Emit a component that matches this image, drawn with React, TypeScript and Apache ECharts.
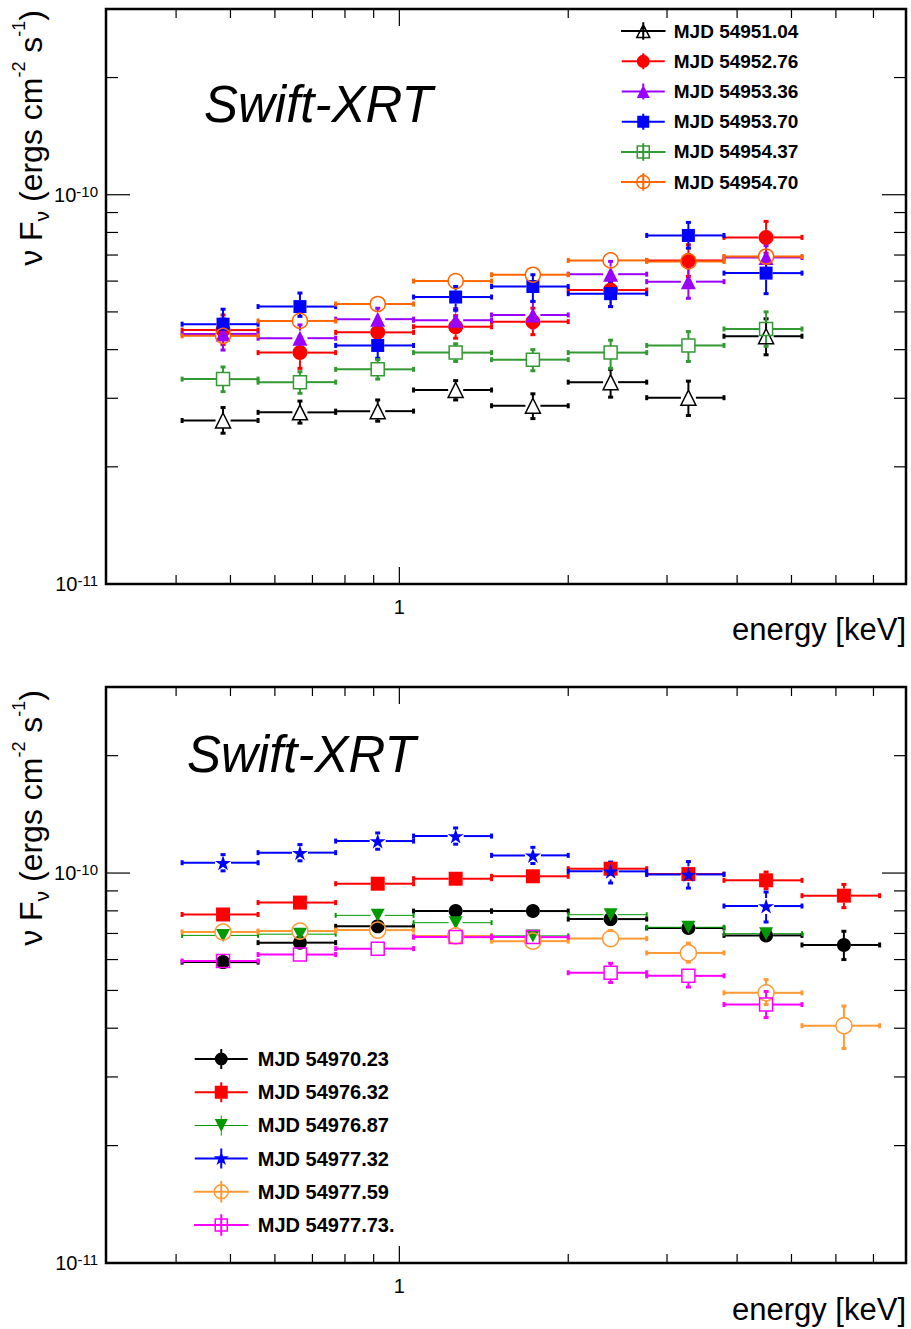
import React, { useEffect, useRef } from 'react';
import * as echarts from 'echarts';

const FONT = '"Liberation Sans", Arial, Helvetica, sans-serif';

// ---- energy bins (keV) ----
const binLo = [0.41, 0.56, 0.77, 1.06, 1.46, 2.0, 2.76, 3.79, 5.22];
const binHi = [0.56, 0.77, 1.06, 1.46, 2.0, 2.76, 3.79, 5.22, 7.18];
const binMid = [0.485, 0.665, 0.915, 1.26, 1.73, 2.38, 3.275, 4.505, 6.2];

// ---- axes ----
const xRange = [0.3, 8];
const yRange = [1e-11, 3e-10];
const xMajorTicks = [1];
const xMinorTicks = [0.4, 0.5, 0.6, 0.7, 0.8, 0.9, 2, 3, 4, 5, 6, 7];
const yMajorTicks = [1e-10];
const yMinorTicks = [2e-11, 3e-11, 4e-11, 5e-11, 6e-11, 7e-11, 8e-11, 9e-11, 2e-10];
const xLabelValues = [1];
const yLabelValues = [1e-11, 1e-10];

const panelTitle = 'Swift-XRT';
const xTitle = 'energy [keV]';

// ---- top panel ----
const topNames = ['MJD 54951.04', 'MJD 54952.76', 'MJD 54953.36', 'MJD 54953.70', 'MJD 54954.37', 'MJD 54954.70'];

const t1Val = [2.63e-11, 2.76e-11, 2.78e-11, 3.15e-11, 2.87e-11, 3.30e-11, 3.01e-11, 4.33e-11];
const t1Lo = [2.44e-11, 2.59e-11, 2.62e-11, 2.97e-11, 2.66e-11, 3.02e-11, 2.71e-11, 3.88e-11];
const t1Hi = [2.84e-11, 2.95e-11, 2.97e-11, 3.33e-11, 3.08e-11, 3.56e-11, 3.32e-11, 4.80e-11];

const t2Val = [4.49e-11, 3.93e-11, 4.43e-11, 4.58e-11, 4.72e-11, 5.69e-11, 6.78e-11, 7.77e-11];
const t2Lo = [4.12e-11, 3.58e-11, 4.12e-11, 4.28e-11, 4.37e-11, 5.16e-11, 6.17e-11, 7.08e-11];
const t2Hi = [4.91e-11, 4.31e-11, 4.77e-11, 4.89e-11, 5.11e-11, 6.19e-11, 7.44e-11, 8.54e-11];

const t3Val = [4.39e-11, 4.28e-11, 4.79e-11, 4.76e-11, 4.91e-11, 6.25e-11, 5.98e-11, 6.90e-11];
const t3Lo = [3.99e-11, 3.95e-11, 4.45e-11, 4.45e-11, 4.55e-11, 5.80e-11, 5.42e-11, 6.40e-11];
const t3Hi = [4.80e-11, 4.63e-11, 5.11e-11, 5.10e-11, 5.32e-11, 6.74e-11, 6.54e-11, 7.40e-11];

const t4Val = [4.65e-11, 5.16e-11, 4.10e-11, 5.46e-11, 5.81e-11, 5.57e-11, 7.86e-11, 6.29e-11];
const t4Lo = [4.25e-11, 4.87e-11, 3.80e-11, 5.05e-11, 5.32e-11, 5.16e-11, 7.29e-11, 5.57e-11];
const t4Hi = [5.08e-11, 5.59e-11, 4.40e-11, 5.81e-11, 6.23e-11, 5.95e-11, 8.49e-11, 6.74e-11];

const t5Val = [3.36e-11, 3.30e-11, 3.56e-11, 3.93e-11, 3.77e-11, 3.93e-11, 4.10e-11, 4.52e-11];
const t5Lo = [3.12e-11, 3.09e-11, 3.36e-11, 3.73e-11, 3.53e-11, 3.58e-11, 3.73e-11, 4.08e-11];
const t5Hi = [3.61e-11, 3.51e-11, 3.77e-11, 4.14e-11, 4.00e-11, 4.23e-11, 4.45e-11, 5.00e-11];

const t6Val = [4.34e-11, 4.74e-11, 5.24e-11, 6.00e-11, 6.23e-11, 6.78e-11, 6.74e-11, 6.94e-11];
const t6Lo = [4.18e-11, 4.56e-11, 5.05e-11, 5.78e-11, 6.00e-11, 6.53e-11, 6.48e-11, 6.68e-11];
const t6Hi = [4.50e-11, 4.92e-11, 5.44e-11, 6.23e-11, 6.47e-11, 7.04e-11, 7.00e-11, 7.20e-11];

// ---- bottom panel ----
const bottomNames = ['MJD 54970.23', 'MJD 54976.32', 'MJD 54976.87', 'MJD 54977.32', 'MJD 54977.59', 'MJD 54977.73.'];

const b1Val = [5.91e-11, 6.63e-11, 7.30e-11, 7.99e-11, 7.99e-11, 7.62e-11, 7.23e-11, 6.92e-11, 6.54e-11];
const b1Lo = [5.75e-11, 6.45e-11, 7.10e-11, 7.78e-11, 7.78e-11, 7.40e-11, 7.00e-11, 6.70e-11, 6.00e-11];
const b1Hi = [6.07e-11, 6.81e-11, 7.50e-11, 8.20e-11, 8.20e-11, 7.84e-11, 7.46e-11, 7.14e-11, 7.09e-11];

const b2Val = [7.83e-11, 8.40e-11, 9.39e-11, 9.67e-11, 9.81e-11, 10.26e-11, 9.94e-11, 9.58e-11, 8.75e-11];
const b2Lo = [7.62e-11, 8.18e-11, 9.15e-11, 9.42e-11, 9.56e-11, 9.90e-11, 9.60e-11, 9.12e-11, 8.15e-11];
const b2Hi = [8.04e-11, 8.62e-11, 9.63e-11, 9.92e-11, 10.06e-11, 10.62e-11, 10.28e-11, 10.06e-11, 9.35e-11];

const b3Val = [6.92e-11, 6.97e-11, 7.79e-11, 7.46e-11, 6.90e-11, 7.82e-11, 7.26e-11, 6.99e-11];
const b3Lo = [6.75e-11, 6.80e-11, 7.60e-11, 7.28e-11, 6.73e-11, 7.63e-11, 7.08e-11, 6.82e-11];
const b3Hi = [7.09e-11, 7.14e-11, 7.98e-11, 7.64e-11, 7.07e-11, 8.01e-11, 7.44e-11, 7.16e-11];

const b4Val = [10.63e-11, 11.28e-11, 12.08e-11, 12.44e-11, 11.10e-11, 10.10e-11, 9.92e-11, 8.23e-11];
const b4Lo = [10.13e-11, 10.75e-11, 11.51e-11, 11.86e-11, 10.58e-11, 9.43e-11, 9.15e-11, 7.49e-11];
const b4Hi = [11.15e-11, 11.83e-11, 12.67e-11, 13.05e-11, 11.64e-11, 10.67e-11, 10.70e-11, 8.94e-11];

const b5Val = [7.06e-11, 7.10e-11, 7.14e-11, 6.90e-11, 6.69e-11, 6.79e-11, 6.24e-11, 4.93e-11, 4.06e-11];
const b5Lo = [6.85e-11, 6.89e-11, 6.93e-11, 6.69e-11, 6.49e-11, 6.48e-11, 5.91e-11, 4.60e-11, 3.55e-11];
const b5Hi = [7.27e-11, 7.31e-11, 7.35e-11, 7.11e-11, 6.89e-11, 7.12e-11, 6.61e-11, 5.33e-11, 4.56e-11];

const b6Val = [5.95e-11, 6.18e-11, 6.40e-11, 6.85e-11, 6.85e-11, 5.55e-11, 5.45e-11, 4.60e-11];
const b6Lo = [5.80e-11, 6.02e-11, 6.23e-11, 6.67e-11, 6.67e-11, 5.24e-11, 5.10e-11, 4.26e-11];
const b6Hi = [6.10e-11, 6.34e-11, 6.57e-11, 7.03e-11, 7.03e-11, 5.87e-11, 5.66e-11, 4.97e-11];

// ---- visual styles (not data) ----
type St = { shape: string; color: string; size: number; open: boolean; lw: number; lr: number };
const topStyles: St[] = [
  { shape: 'triUp', color: '#000000', size: 15, open: true, lw: 2, lr: 6.5 },
  { shape: 'circle', color: '#ff0000', size: 15, open: false, lw: 2, lr: 6.5 },
  { shape: 'triUp', color: '#9900ff', size: 15, open: false, lw: 2, lr: 6.5 },
  { shape: 'square', color: '#0000ff', size: 13, open: false, lw: 2, lr: 6 },
  { shape: 'square', color: '#339933', size: 13, open: true, lw: 2, lr: 6 },
  { shape: 'circle', color: '#ff6600', size: 15, open: true, lw: 2, lr: 6.5 },
];
const bottomStyles: St[] = [
  { shape: 'circle', color: '#000000', size: 14, open: false, lw: 2, lr: 6.5 },
  { shape: 'square', color: '#ff0000', size: 14, open: false, lw: 2, lr: 6.5 },
  { shape: 'triDown', color: '#009900', size: 14, open: false, lw: 1, lr: 6.5 },
  { shape: 'star', color: '#0000ff', size: 16, open: false, lw: 2, lr: 8 },
  { shape: 'circle', color: '#ff9933', size: 16, open: true, lw: 2, lr: 7 },
  { shape: 'square', color: '#ff00ff', size: 13, open: true, lw: 2, lr: 6 },
];

const STAR = [[0, -1], [0.2245, -0.309], [0.951, -0.309], [0.363, 0.118], [0.588, 0.809], [0, 0.382], [-0.588, 0.809], [-0.363, 0.118], [-0.951, -0.309], [-0.2245, -0.309]];

const f = (n: number) => n.toFixed(3);
function rectPath(x0: number, y0: number, x1: number, y1: number) {
  return `M${f(x0)} ${f(y0)}L${f(x1)} ${f(y0)}L${f(x1)} ${f(y1)}L${f(x0)} ${f(y1)}Z`;
}
function markerPath(shape: string, cx: number, cy: number, r: number) {
  switch (shape) {
    case 'circle':
      return `M${f(cx - r)} ${f(cy)}A${r} ${r} 0 1 1 ${f(cx + r)} ${f(cy)}A${r} ${r} 0 1 1 ${f(cx - r)} ${f(cy)}Z`;
    case 'square':
      return rectPath(cx - r, cy - r, cx + r, cy + r);
    case 'triUp':
      return `M${f(cx)} ${f(cy - r)}L${f(cx + r)} ${f(cy + r)}L${f(cx - r)} ${f(cy + r)}Z`;
    case 'triDown':
      return `M${f(cx - r)} ${f(cy - r)}L${f(cx + r)} ${f(cy - r)}L${f(cx)} ${f(cy + r)}Z`;
    case 'star':
      return STAR.map((p, i) => `${i === 0 ? 'M' : 'L'}${f(cx + p[0] * r)} ${f(cy + p[1] * r)}`).join('') + 'Z';
  }
  return '';
}
function iconPath(st: St, W: number, H: number) {
  const cx = W / 2;
  const cy = H / 2;
  const t = st.open ? 0.25 : st.lw / 2;
  return rectPath(0, cy - t, W, cy + t) + rectPath(cx - t, 0, cx + t, H) + markerPath(st.shape, cx, cy, st.lr);
}
function scatterSymbol(shape: string) {
  if (shape === 'circle') return 'circle';
  if (shape === 'square') return 'rect';
  if (shape === 'triUp') return 'triangle';
  if (shape === 'triDown') return 'path://M0,0L10,0L5,9Z';
  return 'path://M10,0L12.245,6.91L19.51,6.91L13.63,11.18L15.88,18.09L10,13.82L4.12,18.09L6.37,11.18L0.49,6.91L7.755,6.91Z';
}

function errorBarSeries(name: string, gi: number, val: number[], lo: number[], hi: number[], st: St) {
  return {
    type: 'custom',
    name,
    xAxisIndex: gi,
    yAxisIndex: gi,
    silent: true,
    encode: { x: 0, y: 1 },
    data: val.map((v, i) => [binMid[i], v, lo[i], hi[i], binLo[i], binHi[i]]),
    renderItem: (_params: any, api: any) => {
      const c = api.coord([api.value(0), api.value(1)]);
      const xl = api.coord([api.value(4), api.value(1)])[0];
      const xr = api.coord([api.value(5), api.value(1)])[0];
      const yt = api.coord([api.value(0), api.value(3)])[1];
      const yb = api.coord([api.value(0), api.value(2)])[1];
      const g = st.size / 2;
      const s = { stroke: st.color, lineWidth: st.lw };
      const cs = { stroke: st.color, lineWidth: st.lw + 1 };
      const k = 2.5;
      const L = (x1: number, y1: number, x2: number, y2: number, style: any) => ({ type: 'line', shape: { x1, y1, x2, y2 }, style });
      const ch: any[] = [
        L(xl, c[1], c[0] - g, c[1], s),
        L(c[0] + g, c[1], xr, c[1], s),
        L(xl, c[1] - k, xl, c[1] + k, cs),
        L(xr, c[1] - k, xr, c[1] + k, cs),
      ];
      if (yt < c[1] - g) {
        ch.push(L(c[0], yt, c[0], c[1] - g, s));
        ch.push(L(c[0] - k, yt, c[0] + k, yt, cs));
      }
      if (yb > c[1] + g) {
        ch.push(L(c[0], c[1] + g, c[0], yb, s));
        ch.push(L(c[0] - k, yb, c[0] + k, yb, cs));
      }
      return { type: 'group', children: ch };
    },
  };
}

function markerSeries(name: string, gi: number, val: number[], st: St) {
  return {
    type: 'scatter',
    name,
    xAxisIndex: gi,
    yAxisIndex: gi,
    silent: true,
    data: val.map((v, i) => [binMid[i], v]),
    symbol: scatterSymbol(st.shape),
    symbolSize: st.shape === 'star' ? [16, 15] : st.shape === 'triDown' ? [14, 13] : st.size,
    itemStyle: st.open
      ? { color: 'rgba(0,0,0,0)', borderColor: st.color, borderWidth: 1.5, opacity: 1 }
      : { color: st.color, borderWidth: 0, opacity: 1 },
    emphasis: { disabled: true },
  };
}

function tickSeries(gi: number) {
  const data = [
    ...xMajorTicks.map((v) => [v, 1e-10, 0, 1]),
    ...xMinorTicks.map((v) => [v, 1e-10, 0, 0]),
    ...yMajorTicks.map((v) => [1, v, 1, 1]),
    ...yMinorTicks.map((v) => [1, v, 1, 0]),
    ...yLabelValues.map((v) => [1, v, 2, 0]),
  ];
  return {
    type: 'custom',
    name: 'axis ticks',
    xAxisIndex: gi,
    yAxisIndex: gi,
    silent: true,
    z: 5,
    encode: { x: 0, y: 1 },
    data,
    renderItem: (params: any, api: any) => {
      const cs = params.coordSys;
      const kind = api.value(2);
      const major = api.value(3) === 1;
      const st = { stroke: '#000', lineWidth: 1.2 };
      if (kind === 0) {
        const px = api.coord([api.value(0), api.value(1)])[0];
        const len = major ? 17 : 9;
        const yb = cs.y + cs.height;
        return {
          type: 'group',
          children: [
            { type: 'line', shape: { x1: px, y1: yb, x2: px, y2: yb - len }, style: st },
            { type: 'line', shape: { x1: px, y1: cs.y, x2: px, y2: cs.y + len }, style: st },
          ],
        };
      }
      const py = api.coord([api.value(0), api.value(1)])[1];
      if (kind === 1) {
        const len = major ? 24 : 12;
        const xr = cs.x + cs.width;
        return {
          type: 'group',
          children: [
            { type: 'line', shape: { x1: cs.x, y1: py, x2: cs.x + len, y2: py }, style: st },
            { type: 'line', shape: { x1: xr, y1: py, x2: xr - len, y2: py }, style: st },
          ],
        };
      }
      const e = Math.round(Math.log10(api.value(1)));
      return {
        type: 'text',
        x: cs.x - 8,
        y: py,
        style: {
          text: `{n|10}{s|${e}}`,
          align: 'right',
          verticalAlign: 'middle',
          fill: '#000',
          rich: {
            n: { fontSize: 20, fontFamily: FONT, fill: '#000', lineHeight: 22 },
            s: { fontSize: 15, fontFamily: FONT, fill: '#000', lineHeight: 10, verticalAlign: 'top' },
          },
        },
      };
    },
  };
}

function makeX(gi: number) {
  return {
    type: 'log',
    logBase: 10,
    gridIndex: gi,
    min: xRange[0],
    max: xRange[1],
    axisLine: { show: false },
    axisTick: { show: false },
    splitLine: { show: false },
    minorTick: { show: false },
    axisLabel: {
      margin: 12.5,
      fontSize: 20,
      fontFamily: FONT,
      color: '#000',
      formatter: (v: number) => (xLabelValues.some((t) => Math.abs(v - t) < 1e-6) ? String(v) : ''),
    },
  };
}
function makeY(gi: number) {
  return {
    type: 'log',
    logBase: 10,
    gridIndex: gi,
    min: yRange[0],
    max: yRange[1],
    axisLine: { show: false },
    axisTick: { show: false },
    splitLine: { show: false },
    minorTick: { show: false },
    axisLabel: { show: false },
  };
}

const yTitleText = '{a|ν\u00a0F}{s|ν}{a|\u00a0(ergs\u00a0cm}{p|-2}{a|\u00a0s}{p|-1}{a|)}';
const yTitleRich = {
  a: { fontSize: 32, fontFamily: FONT, fill: '#000', lineHeight: 42 },
  s: { fontSize: 21, fontFamily: FONT, fill: '#000', lineHeight: 18, verticalAlign: 'bottom' },
  p: { fontSize: 18, fontFamily: FONT, fill: '#000', lineHeight: 18, verticalAlign: 'top' },
};

function legendItem(name: string, st: St, W: number, H: number) {
  return {
    name,
    icon: 'path://' + iconPath(st, W, H),
    itemStyle: st.open
      ? { color: 'rgba(0,0,0,0)', borderColor: st.color, borderWidth: 1.5, opacity: 1 }
      : { color: st.color, borderColor: st.color, borderWidth: 0, opacity: 1 },
  };
}

function buildOption() {
  const topSets = [
    [t1Val, t1Lo, t1Hi],
    [t2Val, t2Lo, t2Hi],
    [t3Val, t3Lo, t3Hi],
    [t4Val, t4Lo, t4Hi],
    [t5Val, t5Lo, t5Hi],
    [t6Val, t6Lo, t6Hi],
  ];
  const bottomSets = [
    [b1Val, b1Lo, b1Hi],
    [b2Val, b2Lo, b2Hi],
    [b3Val, b3Lo, b3Hi],
    [b4Val, b4Lo, b4Hi],
    [b5Val, b5Lo, b5Hi],
    [b6Val, b6Lo, b6Hi],
  ];
  const series: any[] = [tickSeries(0), tickSeries(1)];
  topSets.forEach((s, i) => {
    series.push(errorBarSeries(topNames[i], 0, s[0], s[1], s[2], topStyles[i]));
    series.push(markerSeries(topNames[i], 0, s[0], topStyles[i]));
  });
  bottomSets.forEach((s, i) => {
    series.push(errorBarSeries(bottomNames[i], 1, s[0], s[1], s[2], bottomStyles[i]));
    series.push(markerSeries(bottomNames[i], 1, s[0], bottomStyles[i]));
  });

  const gridBase = { show: true, borderColor: '#000', borderWidth: 2.5, backgroundColor: 'transparent', containLabel: false, outerBoundsMode: 'none' };

  return {
    animation: false,
    backgroundColor: '#ffffff',
    textStyle: { fontFamily: FONT },
    grid: [
      { ...gridBase, left: 106, top: 9, width: 800, height: 575 },
      { ...gridBase, left: 106, top: 687, width: 800, height: 576 },
    ],
    xAxis: [makeX(0), makeX(1)],
    yAxis: [makeY(0), makeY(1)],
    legend: [
      {
        orient: 'vertical',
        left: 621,
        top: 16,
        itemWidth: 43,
        itemHeight: 16,
        itemGap: 0,
        padding: 0,
        selectedMode: false,
        textStyle: { fontSize: 19, fontWeight: 'bold', fontFamily: FONT, color: '#000', lineHeight: 30.2, padding: [0, 0, 0, 4] },
        data: topNames.map((n, i) => legendItem(n, topStyles[i], 43, 16)),
      },
      {
        orient: 'vertical',
        left: 194,
        top: 1042.4,
        itemWidth: 53,
        itemHeight: 20,
        itemGap: 0,
        padding: 0,
        selectedMode: false,
        textStyle: { fontSize: 20, fontWeight: 'bold', fontFamily: FONT, color: '#000', lineHeight: 33.2, padding: [0, 0, 0, 5] },
        data: bottomNames.map((n, i) => legendItem(n, bottomStyles[i], 53, 20)),
      },
    ],
    graphic: [
      { type: 'text', x: 204, y: 104, style: { text: panelTitle, fontSize: 51, fontStyle: 'italic', fontFamily: FONT, fill: '#000', align: 'left', verticalAlign: 'middle' } },
      { type: 'text', x: 187, y: 754, style: { text: panelTitle, fontSize: 51, fontStyle: 'italic', fontFamily: FONT, fill: '#000', align: 'left', verticalAlign: 'middle' } },
      { type: 'text', x: 906, y: 629, style: { text: xTitle, fontSize: 31, fontFamily: FONT, fill: '#000', align: 'right', verticalAlign: 'middle' } },
      { type: 'text', x: 906, y: 1309, style: { text: xTitle, fontSize: 31, fontFamily: FONT, fill: '#000', align: 'right', verticalAlign: 'middle' } },
      { type: 'text', x: 31, y: 10, rotation: Math.PI / 2, style: { text: yTitleText, rich: yTitleRich, fontSize: 32, fontFamily: FONT, fill: '#000', align: 'right', verticalAlign: 'middle' } },
      { type: 'text', x: 31, y: 690, rotation: Math.PI / 2, style: { text: yTitleText, rich: yTitleRich, fontSize: 32, fontFamily: FONT, fill: '#000', align: 'right', verticalAlign: 'middle' } },
    ],
    series,
  };
}

export default function App() {
  const ref = useRef<HTMLDivElement>(null);
  useEffect(() => {
    if (!ref.current) return;
    const chart = echarts.init(ref.current, undefined, { renderer: 'svg' });
    chart.setOption(buildOption() as any);
    return () => chart.dispose();
  }, []);
  return <div ref={ref} style={{ position: 'absolute', left: 0, top: 0, width: 911, height: 1329, background: '#fff' }} />;
}
